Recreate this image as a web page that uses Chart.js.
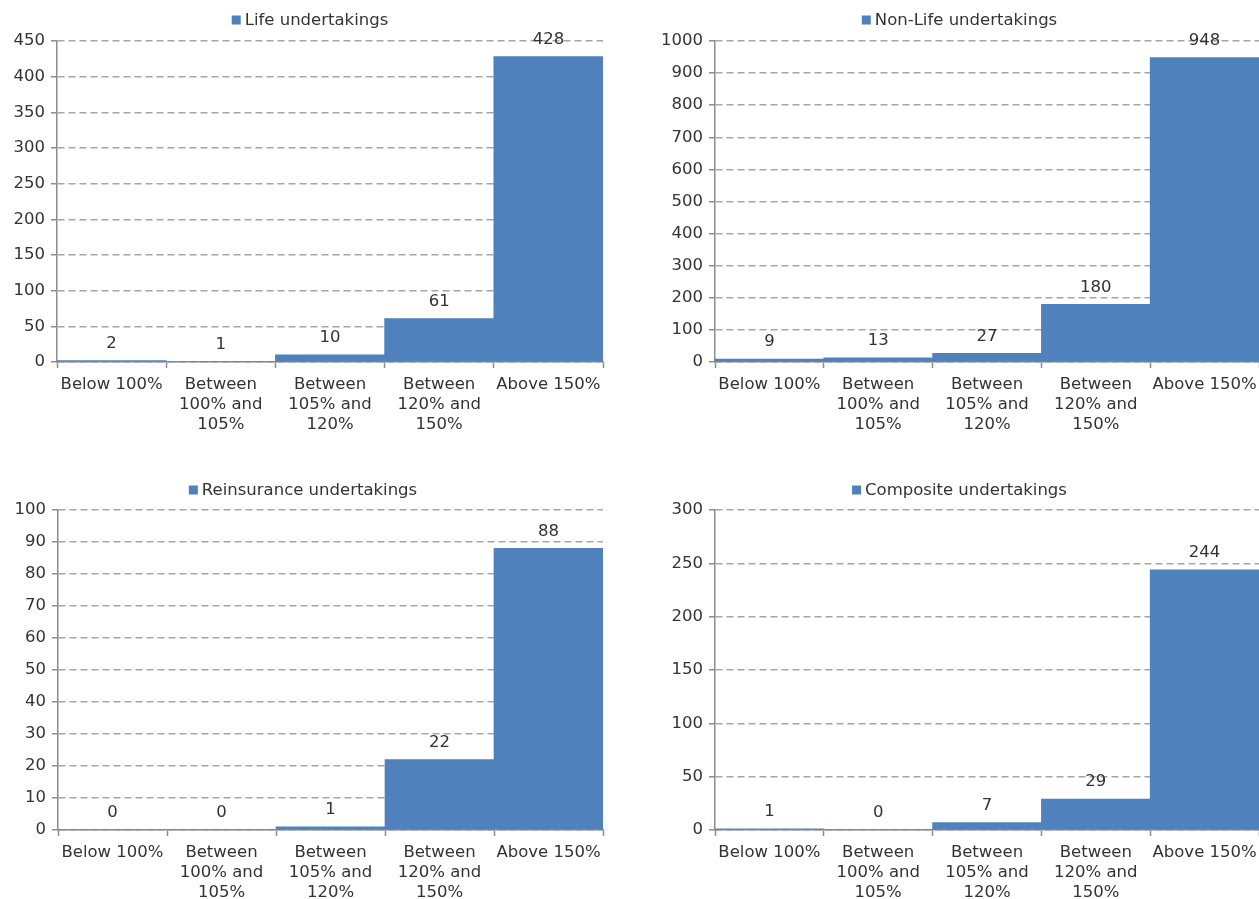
<!DOCTYPE html>
<html>
<head>
<meta charset="utf-8">
<script src="https://cdn.jsdelivr.net/npm/chart.js@4.4.0/dist/chart.umd.min.js"></script>
<style>
  html, body { margin: 0; padding: 0; background: #ffffff; }
  body { width: 1259px; height: 899px; position: relative; overflow: hidden; }
  .panel { position: absolute; }
</style>
</head>
<body>
<div class="panel" id="p1" style="left:0px;top:0px;width:620px;height:440px;"><canvas id="c1"></canvas></div>
<div class="panel" id="p2" style="left:660px;top:0px;width:599px;height:440px;"><canvas id="c2"></canvas></div>
<div class="panel" id="p3" style="left:0px;top:470px;width:606px;height:429px;"><canvas id="c3"></canvas></div>
<div class="panel" id="p4" style="left:660px;top:470px;width:599px;height:429px;"><canvas id="c4"></canvas></div>
<script>
// ---- Data ----
const categories = [
  "Below 100%",
  ["Between", "100% and", "105%"],
  ["Between", "105% and", "120%"],
  ["Between", "120% and", "150%"],
  "Above 150%"
];
const lifeLabel = "Life undertakings";
const lifeValues = [2, 1, 10, 61, 428];
const nonLifeLabel = "Non-Life undertakings";
const nonLifeValues = [9, 13, 27, 180, 948];
const reinsuranceLabel = "Reinsurance undertakings";
const reinsuranceValues = [0, 0, 1, 22, 88];
const compositeLabel = "Composite undertakings";
const compositeValues = [1, 0, 7, 29, 244];
// y-axis tick settings (max, step) per panel
const lifeTicks = [450, 50];
const nonLifeTicks = [1000, 100];
const reinsuranceTicks = [100, 10];
const compositeTicks = [300, 50];

// ---- Styles ----
const FONT = "'DejaVu Sans', Verdana, sans-serif";
const FS = 16.5;
const TEXT = "#333333";
const BAR = "#4F81BD";
const GRID = "#a6a6a6";
const AXIS = "#8c8c8c";

const valueLabelPlugin = {
  id: 'valueLabels',
  afterDatasetsDraw(chart) {
    const ctx = chart.ctx;
    ctx.save();
    ctx.font = FS + "px " + FONT;
    ctx.fillStyle = TEXT;
    ctx.textAlign = 'center';
    ctx.textBaseline = 'middle';
    chart.data.datasets.forEach((ds, di) => {
      const meta = chart.getDatasetMeta(di);
      meta.data.forEach((bar, i) => {
        ctx.fillText(String(ds.data[i]), bar.x, bar.y - 17);
      });
    });
    ctx.restore();
  }
};

const legendPlugin = {
  id: 'customLegend',
  afterDraw(chart) {
    const ctx = chart.ctx;
    const label = chart.data.datasets[0].label;
    ctx.save();
    ctx.font = FS + "px " + FONT;
    const tw = ctx.measureText(label).width;
    const box = 9, gap = 4;
    const total = box + gap + tw;
    const cx = chart.width / 2;
    const y = 20;
    const x0 = cx - total / 2;
    ctx.fillStyle = BAR;
    ctx.fillRect(x0, y - box / 2, box, box);
    ctx.fillStyle = TEXT;
    ctx.textAlign = 'left';
    ctx.textBaseline = 'middle';
    ctx.fillText(label, x0 + box + gap, y + 1);
    ctx.restore();
  }
};

function makeChart(canvasId, label, values, ticks, lay) {
  const ctx = document.getElementById(canvasId);
  return new Chart(ctx, {
    type: 'bar',
    data: {
      labels: categories,
      datasets: [{
        label: label,
        data: values,
        backgroundColor: BAR,
        borderWidth: 0,
        barPercentage: 1.0,
        categoryPercentage: 1.0
      }]
    },
    options: {
      responsive: true,
      maintainAspectRatio: false,
      animation: false,
      layout: { padding: { top: lay.top, right: lay.right, left: 0, bottom: 0 } },
      plugins: {
        legend: { display: false },
        tooltip: { enabled: false }
      },
      scales: {
        x: {
          afterFit(scale) {
            scale.height = lay.xh;
            scale.paddingLeft = 0;
            scale.paddingRight = 0;
          },
          grid: {
            display: true,
            drawOnChartArea: false,
            drawTicks: true,
            offset: true,
            tickLength: 6,
            tickColor: AXIS,
            tickWidth: 1.5
          },
          border: { display: true, color: AXIS, width: 1.5 },
          ticks: {
            color: TEXT,
            padding: 7,
            maxRotation: 0,
            autoSkip: false,
            font: { family: FONT, size: FS, lineHeight: 1.2 }
          }
        },
        y: {
          min: 0,
          max: ticks[0],
          afterFit(scale) { scale.width = lay.yw; },
          grid: {
            display: true,
            color: GRID,
            lineWidth: 1.5,
            drawTicks: true,
            tickLength: 6,
            tickColor: AXIS,
            tickWidth: 1.5,
            tickBorderDash: []
          },
          border: { display: true, color: AXIS, width: 1.5, dash: [7, 4] },
          ticks: {
            stepSize: ticks[1],
            color: TEXT,
            padding: 6,
            font: { family: FONT, size: FS },
            callback: (v) => String(v)
          }
        }
      }
    },
    plugins: [valueLabelPlugin, legendPlugin]
  });
}

makeChart('c1', lifeLabel, lifeValues, lifeTicks, { top: 41, right: 17, yw: 57, xh: 78 });
makeChart('c2', nonLifeLabel, nonLifeValues, nonLifeTicks, { top: 41, right: 0, yw: 55, xh: 78 });
makeChart('c3', reinsuranceLabel, reinsuranceValues, reinsuranceTicks, { top: 40, right: 3, yw: 58, xh: 69 });
makeChart('c4', compositeLabel, compositeValues, compositeTicks, { top: 40, right: 0, yw: 55, xh: 69 });
</script>
</body>
</html>
